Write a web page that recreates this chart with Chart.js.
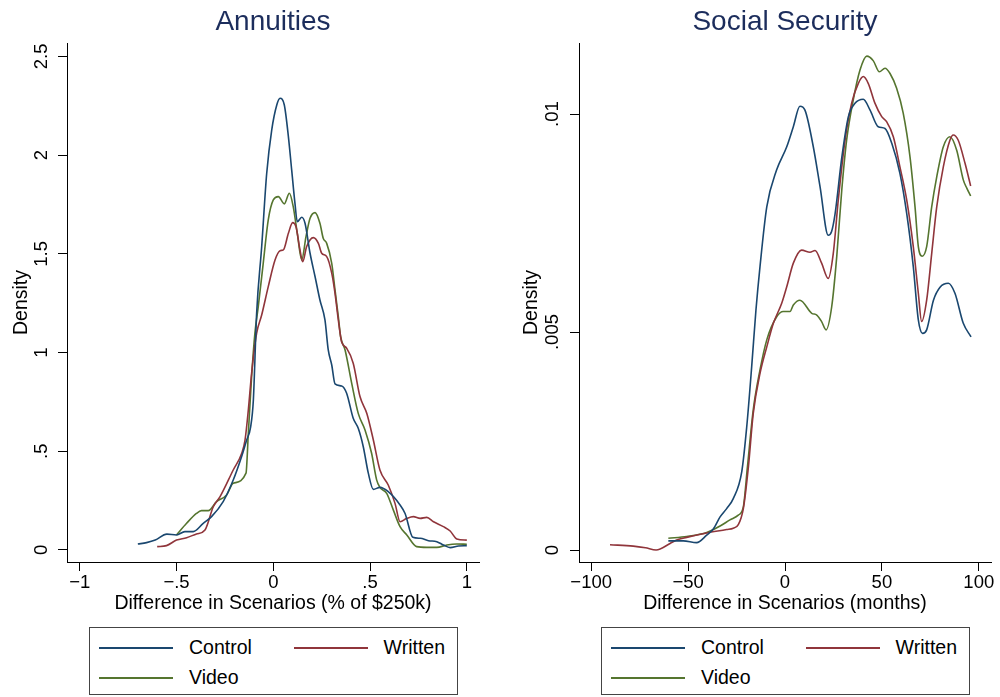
<!DOCTYPE html>
<html>
<head>
<meta charset="utf-8">
<script src="https://cdn.jsdelivr.net/npm/chart.js@4.4.1/dist/chart.umd.min.js"></script>
<style>
    body {
        margin: 0;
        background: #fff;
        width: 1000px;
        height: 697px;
        position: relative;
        overflow: hidden;
        font-family: "Liberation Sans", Arial, sans-serif;
    }
    canvas {
        position: absolute;
        top: 0;
    }
    #annuitiesChart { left: 0; }
    #socialChart { left: 500px; }
    .legend {
        position: absolute;
        top: 627px;
        width: 369px;
        height: 68px;
        border: 1px solid #444;
        box-sizing: border-box;
    }
    .legend .swatch {
        position: absolute;
        width: 74px;
        height: 2px;
    }
    .legend .name {
        position: absolute;
        font-size: 19.5px;
        line-height: 22px;
        color: #000;
        white-space: nowrap;
    }
</style>
</head>
<body>
<canvas id="annuitiesChart" width="500" height="625"></canvas>
<canvas id="socialChart" width="500" height="625"></canvas>
<div class="legend" id="annuitiesLegend" style="left:89px"></div>
<div class="legend" id="socialLegend" style="left:601px"></div>

<script>
const seriesNames = ["Control", "Written", "Video"];
const seriesColors = ["#1a476f", "#90353b", "#55752f"];
const titleColor = "#1c2d5c";

// Annuities: difference in scenarios (% of $250k)
const annControlX = [-0.70, -0.655, -0.61, -0.55, -0.50, -0.457, -0.414, -0.362, -0.319, -0.259, -0.207, -0.164, -0.138, -0.117, -0.103, -0.086, -0.06, -0.034, -0.008, 0.018, 0.035, 0.057, 0.078, 0.095, 0.112, 0.124, 0.147, 0.164, 0.19, 0.216, 0.241, 0.267, 0.284, 0.302, 0.319, 0.353, 0.379, 0.413, 0.439, 0.465, 0.491, 0.517, 0.551, 0.594, 0.655, 0.681, 0.721, 0.759, 0.802, 0.845, 0.879, 0.914, 0.957, 1.0];
const annControlY = [0.03, 0.037, 0.05, 0.08, 0.076, 0.093, 0.093, 0.135, 0.169, 0.245, 0.354, 0.472, 0.556, 0.624, 0.76, 1.2, 1.536, 1.908, 2.128, 2.254, 2.288, 2.254, 2.094, 1.925, 1.756, 1.663, 1.685, 1.655, 1.503, 1.384, 1.266, 1.165, 1.013, 0.937, 0.841, 0.831, 0.794, 0.667, 0.616, 0.523, 0.389, 0.307, 0.317, 0.295, 0.228, 0.185, 0.064, 0.059, 0.047, 0.042, 0.025, 0.012, 0.02, 0.022];

const annWrittenX = [-0.60, -0.552, -0.50, -0.448, -0.397, -0.353, -0.31, -0.275, -0.207, -0.163, -0.146, -0.129, -0.112, -0.086, -0.06, -0.026, 0.009, 0.035, 0.052, 0.078, 0.10, 0.117, 0.138, 0.152, 0.172, 0.207, 0.233, 0.25, 0.276, 0.302, 0.319, 0.336, 0.353, 0.379, 0.413, 0.448, 0.483, 0.517, 0.551, 0.594, 0.629, 0.655, 0.69, 0.724, 0.759, 0.793, 0.828, 0.879, 0.914, 0.948, 1.0];
const annWrittenY = [0.017, 0.022, 0.05, 0.062, 0.081, 0.101, 0.219, 0.27, 0.405, 0.49, 0.557, 0.709, 0.895, 1.098, 1.19, 1.334, 1.469, 1.516, 1.52, 1.604, 1.658, 1.638, 1.52, 1.46, 1.536, 1.582, 1.553, 1.503, 1.486, 1.402, 1.3, 1.165, 1.055, 1.022, 0.946, 0.777, 0.692, 0.557, 0.405, 0.329, 0.236, 0.143, 0.16, 0.169, 0.16, 0.165, 0.143, 0.118, 0.096, 0.056, 0.05];

const annVideoX = [-0.50, -0.448, -0.397, -0.371, -0.336, -0.293, -0.241, -0.207, -0.141, -0.129, -0.112, -0.095, -0.078, -0.052, -0.026, 0.0, 0.026, 0.057, 0.083, 0.103, 0.124, 0.147, 0.169, 0.19, 0.216, 0.241, 0.258, 0.276, 0.302, 0.319, 0.336, 0.348, 0.371, 0.405, 0.439, 0.474, 0.508, 0.534, 0.551, 0.586, 0.62, 0.655, 0.69, 0.741, 0.793, 0.845, 0.897, 0.948, 1.0];
const annVideoY = [0.076, 0.135, 0.185, 0.199, 0.199, 0.245, 0.278, 0.338, 0.389, 0.591, 0.878, 1.098, 1.23, 1.452, 1.672, 1.773, 1.79, 1.753, 1.807, 1.739, 1.604, 1.469, 1.587, 1.68, 1.709, 1.655, 1.579, 1.553, 1.452, 1.317, 1.182, 1.08, 1.013, 0.845, 0.692, 0.608, 0.49, 0.355, 0.317, 0.287, 0.203, 0.118, 0.076, 0.017, 0.013, 0.013, 0.025, 0.03, 0.029];

// Social Security: difference in scenarios (months)
const ssControlX = [-60.2, -52.5, -45.6, -40.4, -37.0, -33.5, -30.1, -26.7, -22.3, -19.8, -17.2, -15.0, -12.9, -9.4, -4.3, 0.9, 4.3, 7.7, 10.3, 14.6, 18.1, 22.3, 24.0, 25.8, 29.3, 32.7, 36.0, 40.4, 43.9, 48.1, 51.6, 55.1, 59.3, 62.8, 66.2, 68.8, 71.0, 73.1, 76.6, 80.0, 84.3, 87.7, 92.0, 96.0];
const ssControlY = [0.00021, 0.00021, 0.00017, 0.00034, 0.00048, 0.00076, 0.00095, 0.00118, 0.0018, 0.0028, 0.0042, 0.0055, 0.0065, 0.00787, 0.00872, 0.00925, 0.00971, 0.01018, 0.01009, 0.00925, 0.00833, 0.00722, 0.0073, 0.0077, 0.009, 0.00994, 0.01024, 0.01034, 0.01009, 0.00971, 0.00967, 0.00933, 0.00864, 0.00772, 0.0065, 0.00528, 0.00497, 0.00505, 0.00573, 0.00603, 0.00612, 0.00589, 0.0052, 0.00489];

const ssWrittenX = [-90.3, -78.3, -72.0, -66.5, -59.3, -55.9, -50.7, -40.4, -30.1, -26.7, -24.1, -21.5, -18.9, -16.4, -12.9, -9.4, -6.0, -1.7, 0.9, 4.3, 8.6, 12.9, 15.5, 18.9, 22.3, 24.9, 27.5, 31.0, 34.4, 37.8, 40.4, 43.0, 46.4, 49.9, 52.5, 55.9, 59.3, 62.8, 66.2, 68.8, 70.5, 73.1, 75.7, 78.3, 81.7, 85.1, 86.8, 89.4, 92.9, 95.8];
const ssWrittenY = [0.00012, 0.00009, 0.00005, 0.0, 0.00015, 0.00023, 0.00029, 0.00039, 0.00047, 0.0005, 0.00058, 0.00095, 0.0019, 0.00313, 0.00405, 0.00466, 0.0052, 0.00566, 0.00604, 0.00658, 0.00688, 0.00683, 0.00687, 0.00658, 0.00623, 0.0068, 0.00803, 0.0094, 0.01025, 0.0107, 0.01086, 0.0107, 0.01025, 0.00994, 0.00982, 0.00948, 0.00879, 0.00803, 0.00696, 0.00589, 0.00524, 0.00573, 0.0068, 0.00787, 0.00879, 0.0094, 0.00952, 0.0094, 0.00887, 0.00835];

const ssVideoX = [-60.2, -50.7, -40.4, -33.5, -28.4, -24.1, -21.5, -19.4, -16.4, -12.9, -9.4, -4.3, -0.9, 2.6, 4.3, 7.7, 13.8, 16.4, 18.9, 21.2, 24.1, 26.7, 29.3, 31.8, 35.2, 38.7, 42.2, 45.6, 48.7, 51.6, 54.2, 57.6, 61.0, 64.5, 67.1, 68.8, 70.8, 73.1, 75.7, 78.3, 81.7, 85.1, 88.6, 92.0, 93.8, 95.8];
const ssVideoY = [0.00027, 0.00031, 0.0004, 0.00055, 0.00069, 0.0008, 0.00099, 0.0019, 0.00321, 0.00413, 0.00482, 0.00535, 0.00547, 0.00547, 0.00562, 0.00573, 0.00543, 0.00539, 0.00524, 0.00505, 0.00558, 0.00673, 0.00826, 0.0094, 0.01032, 0.01101, 0.01133, 0.01122, 0.01097, 0.01105, 0.01093, 0.01059, 0.01002, 0.00902, 0.00787, 0.00696, 0.00674, 0.00696, 0.00787, 0.00856, 0.00925, 0.00948, 0.00917, 0.00849, 0.0083, 0.00812];

// tick values and labels
const annXTicks = [-1, -0.5, 0, 0.5, 1];
const annXTickLabels = ["\u22121", "\u2212.5", "0", ".5", "1"];
const annYTicks = [0, 0.5, 1, 1.5, 2, 2.5];
const annYTickLabels = ["0", ".5", "1", "1.5", "2", "2.5"];
const ssXTicks = [-100, -50, 0, 50, 100];
const ssXTickLabels = ["\u2212100", "\u221250", "0", "50", "100"];
const ssYTicks = [0, 0.005, 0.01];
const ssYTickLabels = ["0", ".005", ".01"];

Chart.defaults.font.family = '"Liberation Sans", Arial, sans-serif';
Chart.defaults.color = "#000";

function buildChart(canvasId, cfg) {
    const datasets = cfg.xs.map((xs, i) => ({
        label: seriesNames[i],
        data: xs.map((x, j) => ({ x: x, y: cfg.ys[i][j] })),
        borderColor: seriesColors[i],
        borderWidth: 1.6,
        pointRadius: 0,
        fill: false,
        cubicInterpolationMode: "monotone",
    }));
    const axisGrid = {
        display: true,
        drawOnChartArea: false,
        drawTicks: true,
        tickLength: 9,
        color: "#000",
        lineWidth: 1,
    };
    const axisBorder = { display: true, color: "#000", width: 1 };

    return new Chart(document.getElementById(canvasId), {
        type: "line",
        data: { datasets: datasets },
        options: {
            responsive: false,
            animation: false,
            layout: {
                padding: { left: cfg.padLeft, right: cfg.padRight, top: 0, bottom: 5.6 },
            },
            plugins: {
                legend: { display: false },
                tooltip: { enabled: false },
                title: {
                    display: true,
                    fullSize: false,
                    text: cfg.title,
                    color: titleColor,
                    font: { size: 28, weight: "normal" },
                    padding: { top: 5, bottom: 4.4 },
                },
            },
            scales: {
                x: {
                    type: "linear",
                    min: cfg.xMin,
                    max: cfg.xMax,
                    afterBuildTicks: (s) => {
                        s.ticks = cfg.xTicks.map((v) => ({ value: v }));
                    },
                    afterFit: (s) => {
                        s.height = 57.4;
                    },
                    ticks: {
                        callback: (v, i) => cfg.xTickLabels[i],
                        font: { size: 18.5 },
                        padding: 1,
                        maxRotation: 0,
                        autoSkip: false,
                    },
                    grid: axisGrid,
                    border: axisBorder,
                    title: {
                        display: true,
                        text: cfg.xTitle,
                        font: { size: 19.5 },
                        padding: { top: 4, bottom: 4 },
                    },
                },
                y: {
                    type: "linear",
                    min: cfg.yMin,
                    max: cfg.yMax,
                    afterBuildTicks: (s) => {
                        s.ticks = cfg.yTicks.map((v) => ({ value: v }));
                    },
                    afterFit: (s) => {
                        s.width = cfg.yAxisWidth;
                    },
                    ticks: {
                        callback: (v, i) => cfg.yTickLabels[i],
                        font: { size: 18.5 },
                        padding: cfg.yTickPad,
                        minRotation: 90,
                        maxRotation: 90,
                        crossAlign: "center",
                        autoSkip: false,
                    },
                    grid: axisGrid,
                    border: axisBorder,
                    title: {
                        display: true,
                        text: "Density",
                        font: { size: 19.5 },
                        padding: { top: 5, bottom: 5 },
                    },
                },
            },
        },
    });
}

function buildLegend(id) {
    const box = document.getElementById(id);
    const slots = [
        { lineLeft: 9, top: 20 },
        { lineLeft: 204, top: 20 },
        { lineLeft: 9, top: 49.5 },
    ];
    seriesNames.forEach((name, i) => {
        const slot = slots[i];
        const line = document.createElement("div");
        line.className = "swatch";
        line.style.left = slot.lineLeft + "px";
        line.style.top = slot.top - 1 + "px";
        line.style.backgroundColor = seriesColors[i];
        box.appendChild(line);

        const label = document.createElement("div");
        label.className = "name";
        label.textContent = name;
        label.style.top = slot.top - 12 + "px";
        if (i === 1) {
            label.style.right = "12px";
        } else {
            label.style.left = "99px";
        }
        box.appendChild(label);
    });
}

buildChart("annuitiesChart", {
    title: "Annuities",
    xTitle: "Difference in Scenarios (% of $250k)",
    xs: [annControlX, annWrittenX, annVideoX],
    ys: [annControlY, annWrittenY, annVideoY],
    xMin: -1.066,
    xMax: 1.063,
    yMin: -0.061,
    yMax: 2.568,
    xTicks: annXTicks,
    xTickLabels: annXTickLabels,
    yTicks: annYTicks,
    yTickLabels: annYTickLabels,
    padLeft: 5,
    padRight: 21,
    yAxisWidth: 62,
    yTickPad: 3.6,
});

buildChart("socialChart", {
    title: "Social Security",
    xTitle: "Difference in Scenarios (months)",
    xs: [ssControlX, ssWrittenX, ssVideoX],
    ys: [ssControlY, ssWrittenY, ssVideoY],
    xMin: -106.3,
    xMax: 106.3,
    yMin: -0.000275,
    yMax: 0.01163,
    xTicks: ssXTicks,
    xTickLabels: ssXTickLabels,
    yTicks: ssYTicks,
    yTickLabels: ssYTickLabels,
    padLeft: 15.3,
    padRight: 9,
    yAxisWidth: 63.7,
    yTickPad: -0.5,
});

buildLegend("annuitiesLegend");
buildLegend("socialLegend");
</script>
</body>
</html>
